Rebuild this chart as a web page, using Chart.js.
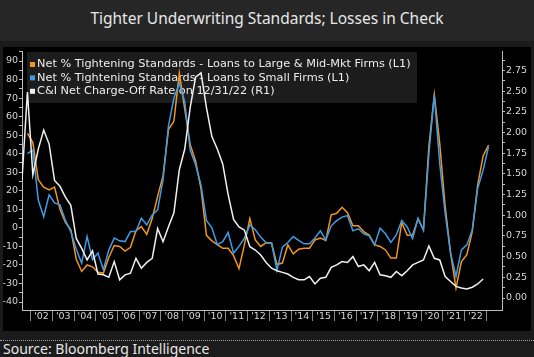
<!DOCTYPE html>
<html><head><meta charset="utf-8">
<script src="https://cdn.jsdelivr.net/npm/chart.js@4/dist/chart.umd.min.js"></script>
<style>
html,body{margin:0;padding:0;background:#1b1b1b;width:534px;height:357px;overflow:hidden;}
#title{position:absolute;left:0;top:0;width:534px;height:41px;background:#262626;color:#e6e6e6;font:15.5px "Noto Sans",sans-serif;text-align:center;line-height:37px;white-space:nowrap;}
#panel{position:absolute;left:3px;top:47px;width:528px;height:284px;background:#000;}
#wrap{position:absolute;left:0;top:0;width:534px;height:357px;}
#dots{position:absolute;left:0;top:340px;width:534px;height:0;border-top:1px dotted #a0a0a0;}
#source{position:absolute;left:3px;top:339px;color:#e6e6e6;font:14px "Noto Sans",sans-serif;line-height:20px;white-space:nowrap;}
</style></head>
<body>
<div id="title">Tighter Underwriting Standards; Losses in Check</div>
<div id="panel"></div>
<div id="dots"></div>
<div id="source">Source: Bloomberg Intelligence</div>
<div id="wrap"><canvas id="c" width="534" height="357"></canvas></div>
<script>
// ---- data (quarterly) ----
const seriesNames = [
  "Net % Tightening Standards - Loans to Large & Mid-Mkt Firms (L1)",
  "Net % Tightening Standards - Loans to Small Firms (L1)",
  "C&I Net Charge-Off Rate on 12/31/22 (R1)"
];
const yearLabels = ["'02","'03","'04","'05","'06","'07","'08","'09","'10","'11","'12","'13","'14","'15","'16","'17","'18","'19","'20","'21","'22"];
const firstYear = 2002;
// first quarter position of each series (decimal year)
const startLargeMid = 2001.85;
const startSmall = 2001.85;
const startChargeOff = 2001.6;

const largeMid = [51,46,26,22,20.5,22,10,3,-1,-17,-23.5,-20,-21,-24,-24.4,-16,-9.5,-10,-12.5,-10.5,
  -1.5,0.7,-3.5,5,17,28,53,57.5,83.5,64,45,36,21,-4,-7,-9,-11,-11,-15,-22,
  -9,5,-6.5,-10,-8,-8.2,-19.8,-19,-9.2,-14,-11.5,-11,-11,-6.5,-5.5,-6.8,7,7.9,11.1,8.2,
  1.1,1.1,-2,-3.8,-9.2,-10,-11.9,-16.3,-16.3,2.9,-4,-3.8,4.8,-1.1,43.8,71.7,45.6,11.5,-13.6,-32.5,
  -18.2,-14.5,-2,23.2,38.8,44.7];
const small = [40,42,15,6,17.8,13.5,12.4,4,-2,-11.5,-19,-4.7,-17.2,-13.6,-22.6,-12,-5.5,-7,-7.4,-2,
  -2,5.2,1.6,7,9.7,26,55,70,78,68,42,34,23,4,0,-9,-7.4,-2.5,-13.6,-10,
  -5.5,1.6,-1,-5,-8,-8.2,-23,-10.4,-7.9,-4.7,-6.8,-8.6,-8.6,-5.5,-1.6,-6.5,1.1,3.9,5.8,6.6,
  -1.6,-0.5,-3.2,-4.3,-9.2,-0.2,-3.2,-7.9,-3.8,4,0.5,-5.8,5.2,-1.3,40,71.7,34.8,7.9,-13.6,-26.2,
  -11.9,-9.2,-1.1,21.4,31.2,43.8];
const chargeOff = [1.43,2.49,1.49,1.8,2.03,1.86,1.42,1.35,1.22,1.12,0.72,0.6,0.46,0.57,0.29,0.28,0.25,0.44,0.22,0.28,
  0.30,0.48,0.36,0.43,0.48,0.84,0.68,0.86,1.03,1.55,1.8,2.3,2.67,2.72,2.3,1.95,1.8,1.62,1.25,0.95,
  0.86,0.82,0.62,0.58,0.52,0.43,0.36,0.33,0.31,0.29,0.25,0.22,0.22,0.26,0.17,0.24,0.25,0.37,0.40,0.44,
  0.43,0.50,0.38,0.40,0.33,0.43,0.28,0.27,0.25,0.32,0.27,0.33,0.40,0.43,0.46,0.63,0.48,0.46,0.26,0.20,
  0.14,0.12,0.11,0.13,0.17,0.23];
const leftTicks = [-40,-30,-20,-10,0,10,20,30,40,50,60,70,80,90];
const rightTicks = [0,0.25,0.5,0.75,1,1.25,1.5,1.75,2,2.25,2.5,2.75];

const colors = {orange:'#f2961d', blue:'#3f9be6', white:'#f0f0f0'};

function toPoints(start, arr){ return arr.map((v,i)=>({x:start + i*0.25, y:v})); }

const X_MIN = 2001.6, X_MAX = 2023.72;
const L_MIN = -44.3, L_MAX = 95.4;
const R_MIN = -0.145, R_MAX = 2.985;

const legendPlugin = {
  id:'boxLegend',
  beforeDatasetsDraw(chart){
    const ctx = chart.ctx;
    ctx.save();
    ctx.fillStyle = '#1c1c1c';
    ctx.fillRect(27, 52, 390, 51);
    const cols = [colors.orange, colors.blue, colors.white];
    ctx.font = '11.3px "DejaVu Sans"';
    ctx.textBaseline = 'middle';
    seriesNames.forEach((name, k) => {
      const yy = 64.5 + k*13.4;
      ctx.fillStyle = cols[k];
      ctx.fillRect(30, yy-2.5, 5, 5);
      ctx.fillStyle = '#ececec';
      ctx.fillText(name, 37, yy);
    });
    ctx.restore();
  }
};

const tickFont = {family:'DejaVu Sans', size:9.5};

new Chart(document.getElementById('c'), {
  type:'line',
  data:{
    datasets:[
      {label:seriesNames[2], data:toPoints(startChargeOff, chargeOff), yAxisID:'yR', borderColor:colors.white, borderWidth:1.5, pointRadius:0, tension:0},
      {label:seriesNames[1], data:toPoints(startSmall, small), yAxisID:'yL', borderColor:colors.blue, borderWidth:1.5, pointRadius:0, tension:0},
      {label:seriesNames[0], data:toPoints(startLargeMid, largeMid), yAxisID:'yL', borderColor:colors.orange, borderWidth:1.5, pointRadius:0, tension:0}
    ]
  },
  options:{
    responsive:false, animation:false, devicePixelRatio:1,
    layout:{padding:{top:51,left:0,right:0,bottom:0}},
    plugins:{legend:{display:false}, tooltip:{enabled:false}},
    scales:{
      x:{type:'linear', position:'bottom', min:X_MIN, max:X_MAX,
        afterBuildTicks(s){
          const t=[];
          for(let k=0;k<=yearLabels.length;k++){ t.push({value:firstYear+k}); if(k<yearLabels.length) t.push({value:firstYear+k+0.5}); }
          s.ticks=t;
        },
        afterFit(s){ s.height = 47; },
        grid:{drawOnChartArea:false, drawTicks:true, tickLength:11,
          color:c=> (c.tick && Math.abs(c.tick.value-Math.round(c.tick.value))<1e-6) ? '#8a8a8a' : 'rgba(0,0,0,0)'},
        border:{display:true, color:'#bdbdbd', width:1},
        ticks:{autoSkip:false, maxRotation:0, minRotation:0, padding:-10, color:'#d6d6d6', font:tickFont,
          callback:(v)=>{ const k=Math.floor(v)-firstYear; return (Math.abs(v-Math.floor(v)-0.5)<1e-6 && k>=0 && k<yearLabels.length) ? yearLabels[k] : ''; }}
      },
      yL:{type:'linear', position:'left', min:L_MIN, max:L_MAX,
        afterBuildTicks(s){
          const t=[];
          leftTicks.forEach((v,i)=>{ t.push({value:v}); if(i<leftTicks.length-1) t.push({value:v+5}); });
          t.push({value:leftTicks[leftTicks.length-1]+5});
          s.ticks=t;
        },
        afterFit(s){ s.width = 22; },
        grid:{drawOnChartArea:false, tickLength:3, color:'#bdbdbd'},
        border:{display:true, color:'#bdbdbd', width:1},
        ticks:{autoSkip:false, padding:1, color:'#d6d6d6', font:tickFont,
          callback:(v)=> leftTicks.includes(v) ? String(v) : ''}
      },
      yR:{type:'linear', position:'right', min:R_MIN, max:R_MAX,
        afterBuildTicks(s){
          const t=[];
          rightTicks.forEach((v,i)=>{ t.push({value:v}); t.push({value:v+0.125}); });
          s.ticks=t;
        },
        afterFit(s){ s.width = 32; },
        grid:{drawOnChartArea:false, tickLength:3, color:'#bdbdbd'},
        border:{display:true, color:'#bdbdbd', width:1},
        ticks:{autoSkip:false, padding:1, color:'#d6d6d6', font:tickFont,
          callback:(v)=> rightTicks.some(r=>Math.abs(r-v)<1e-9) ? v.toFixed(2) : ''}
      }
    }
  },
  plugins:[legendPlugin]
});
</script>
</body></html>
